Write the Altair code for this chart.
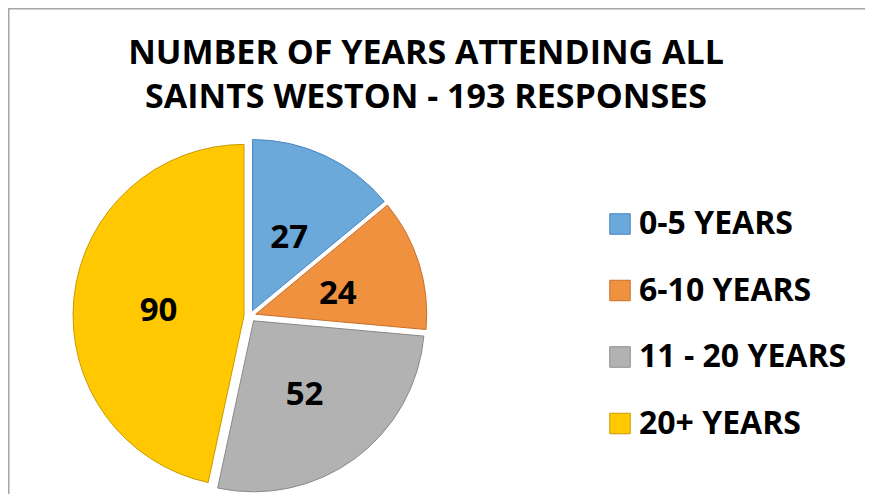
import altair as alt
import pandas as pd

# ---- data ----
categories = ["0-5 YEARS", "6-10 YEARS", "11 - 20 YEARS", "20+ YEARS"]
counts = [27, 24, 52, 90]
fill_colors = ["#6AA9DA", "#F0913F", "#B2B2B2", "#FFC800"]
stroke_colors = ["#4A86BE", "#C8702A", "#8A8A8A", "#C89B00"]
title_lines = ["NUMBER OF YEARS ATTENDING ALL", "SAINTS WESTON - 193 RESPONSES"]

# ---- layout (pixels) ----
W, H = 857, 486
CX, CY = 242, 308      # pie centre
R = 171                # pie radius
E = 6                  # explode distance
LABEL_R = 86
FONT = "Open Sans"
FS_TITLE = 34
FS = 33
FS_LEGEND = 32

df = pd.DataFrame({"category": categories, "count": counts, "order": range(len(categories))})
title_df = pd.DataFrame({"line": title_lines, "i": range(len(title_lines))})
frame_df = pd.DataFrame({"k": [0]})

base = (
    alt.Chart(df)
    .transform_joinaggregate(total="sum(count)")
    .transform_window(cum="sum(count)", sort=[alt.SortField("order")], frame=[None, 0])
    .transform_calculate(
        start="2*PI*(datum.cum - datum.count)/datum.total",
        end="2*PI*datum.cum/datum.total",
    )
    .transform_calculate(mid="(datum.start + datum.end)/2")
    .transform_calculate(
        cx=f"{CX} + {E}*sin(datum.mid)",
        cy=f"{CY} - {E}*cos(datum.mid)",
    )
)

color_scale = alt.Scale(domain=categories, range=fill_colors)
stroke_scale = alt.Scale(domain=categories, range=stroke_colors)

legend = alt.Legend(
    title=None,
    orient="none",
    legendX=596,
    legendY=200,
    symbolType="square",
    symbolSize=420,
    symbolStrokeWidth=1,
    symbolOpacity=1,
    labelFont=FONT,
    labelFontSize=FS_LEGEND,
    labelFontWeight="bold",
    labelColor="#000000",
    labelOffset=3,
    rowPadding=34.5,
    labelLimit=400,
)

arcs = base.mark_arc(radius=R, strokeWidth=1, opacity=1).encode(
    x=alt.X("cx:Q", scale=None, axis=None),
    y=alt.Y("cy:Q", scale=None, axis=None),
    theta=alt.Theta("start:Q", scale=None),
    theta2="end:Q",
    color=alt.Color("category:N", scale=color_scale, sort=categories, legend=legend),
    stroke=alt.Stroke("category:N", scale=stroke_scale, sort=categories, legend=legend),
    order=alt.Order("order:Q"),
)

labels = base.mark_text(
    radius=LABEL_R, font=FONT, fontSize=FS, fontWeight="bold", color="#000000",
    align="center", baseline="middle", dy=5,
).encode(
    x=alt.X("cx:Q", scale=None, axis=None),
    y=alt.Y("cy:Q", scale=None, axis=None),
    theta=alt.Theta("mid:Q", scale=None),
    text=alt.Text("count:Q"),
)

title = alt.Chart(title_df).mark_text(
    font=FONT, fontSize=FS_TITLE, fontWeight="bold", color="#000000",
    align="center", baseline="alphabetic",
).encode(
    x=alt.value(418),
    y=alt.Y("i:Q", scale=alt.Scale(domain=[0, 1], range=[56, 100]), axis=None),
    text="line:N",
)

top_rule = alt.Chart(frame_df).mark_rule(color="#A6A6A6", strokeWidth=1.5).encode(
    x=alt.value(0), x2=alt.value(W), y=alt.value(0.75), y2=alt.value(0.75)
)
left_rule = alt.Chart(frame_df).mark_rule(color="#A6A6A6", strokeWidth=1.5).encode(
    x=alt.value(0.75), x2=alt.value(0.75), y=alt.value(0), y2=alt.value(H)
)

chart = (
    alt.layer(top_rule, left_rule, arcs, labels, title)
    .resolve_scale(x="independent", y="independent")
    .properties(width=W, height=H, padding=0, autosize=alt.AutoSizeParams(type="none"))
    .configure_view(stroke=None)
)

chart.save("out.html", embed_options={"renderer": "svg", "actions": False})
